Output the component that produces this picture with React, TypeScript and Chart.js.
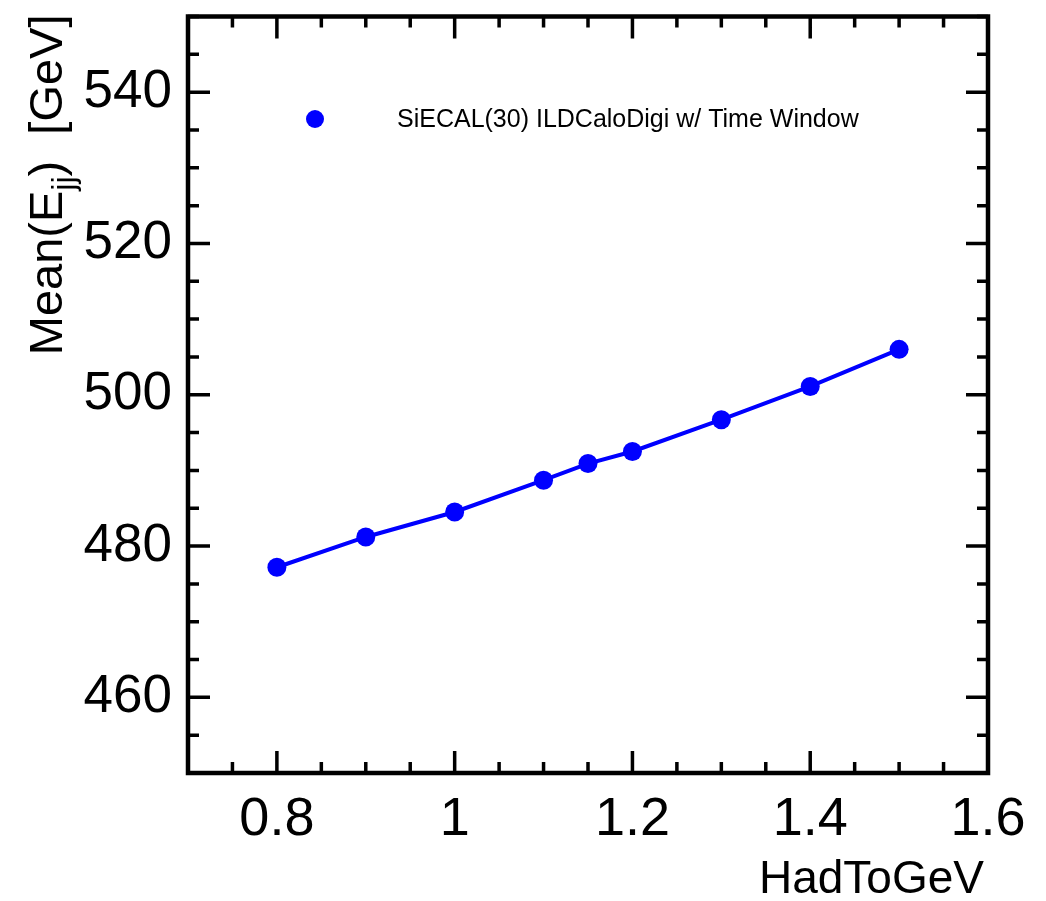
import React, { useEffect, useRef } from "react";
import { Chart, registerables } from "chart.js";

Chart.register(...registerables);

// HadToGeV scan: mean di-jet energy
const hadToGeV = [0.8, 0.9, 1.0, 1.1, 1.15, 1.2, 1.3, 1.4, 1.5];
const meanEjj = [477.2, 481.2, 484.5, 488.7, 490.9, 492.5, 496.7, 501.1, 506.0];

const xTickValues = [0.8, 1.0, 1.2, 1.4, 1.6];
const yTickValues = [460, 480, 500, 520, 540];

const seriesLabel = "SiECAL(30) ILDCaloDigi w/ Time Window";
const xTitle = "HadToGeV";

const FONT = "'Liberation Sans', Arial, Helvetica, sans-serif";
const BLUE = "#0000ff";

const X_MIN = 0.7, X_MAX = 1.6, X_MINOR = 0.05, X_MAJOR = 0.2;
const Y_MIN = 450, Y_MAX = 550, Y_MINOR = 5, Y_MAJOR = 20;

// Frame with inward ticks on all four sides, axis titles and the legend
const framePlugin = {
  id: "rootFrame",
  afterDraw(chart: any) {
    const { ctx, chartArea: a, scales } = chart;
    const xs = scales.x, ys = scales.y;
    ctx.save();
    ctx.strokeStyle = "#000";
    ctx.lineWidth = 4.5;
    ctx.strokeRect(a.left, a.top, a.right - a.left, a.bottom - a.top);

    ctx.lineWidth = 3.5;
    ctx.beginPath();
    const nx = Math.round((X_MAX - X_MIN) / X_MINOR);
    for (let i = 0; i <= nx; i++) {
      const v = X_MIN + i * X_MINOR;
      const major = Math.abs(v / X_MAJOR - Math.round(v / X_MAJOR)) < 1e-6;
      const len = major ? 22 : 11;
      const px = xs.getPixelForValue(v);
      ctx.moveTo(px, a.bottom);
      ctx.lineTo(px, a.bottom - len);
      ctx.moveTo(px, a.top);
      ctx.lineTo(px, a.top + len);
    }
    const ny = Math.round((Y_MAX - Y_MIN) / Y_MINOR);
    for (let i = 0; i <= ny; i++) {
      const v = Y_MIN + i * Y_MINOR;
      const major = v % Y_MAJOR === 0;
      const len = major ? 22 : 11;
      const py = ys.getPixelForValue(v);
      ctx.moveTo(a.left, py);
      ctx.lineTo(a.left + len, py);
      ctx.moveTo(a.right, py);
      ctx.lineTo(a.right - len, py);
    }
    ctx.stroke();

    // x-axis title, right aligned
    ctx.fillStyle = "#000";
    ctx.font = `46px ${FONT}`;
    ctx.textAlign = "right";
    ctx.textBaseline = "alphabetic";
    ctx.fillText(xTitle, a.right - 4, 893);

    // y-axis title with subscript, rotated, ending at the top of the frame
    ctx.save();
    ctx.translate(62, a.top - 2);
    ctx.rotate(-Math.PI / 2);
    const big = `47px ${FONT}`;
    const small = `32px ${FONT}`;
    const parts: [string, string, number][] = [
      ["Mean(E", big, 0],
      ["jj", small, 12],
      [")  [GeV]", big, 0],
    ];
    let total = 0;
    for (const [t, f] of parts) { ctx.font = f; total += ctx.measureText(t).width; }
    let cx = -total;
    ctx.textAlign = "left";
    for (const [t, f, dy] of parts) {
      ctx.font = f;
      ctx.fillText(t, cx, dy);
      cx += ctx.measureText(t).width;
    }
    ctx.restore();

    // legend
    ctx.fillStyle = BLUE;
    ctx.beginPath();
    ctx.arc(315, 119, 9, 0, Math.PI * 2);
    ctx.fill();
    ctx.fillStyle = "#000";
    ctx.font = `25px ${FONT}`;
    ctx.textAlign = "left";
    ctx.textBaseline = "middle";
    ctx.fillText(seriesLabel, 397, 120);
    ctx.restore();
  },
};

export default function App() {
  const ref = useRef<HTMLCanvasElement | null>(null);

  useEffect(() => {
    if (!ref.current) return;
    const chart = new Chart(ref.current, {
      type: "line",
      data: {
        datasets: [
          {
            label: seriesLabel,
            data: hadToGeV.map((x, i) => ({ x, y: meanEjj[i] })),
            borderColor: BLUE,
            backgroundColor: BLUE,
            borderWidth: 4,
            pointRadius: 9.5,
            pointHoverRadius: 9.5,
            pointBorderWidth: 0,
            pointBackgroundColor: BLUE,
            tension: 0,
          },
        ],
      },
      options: {
        animation: false,
        responsive: false,
        maintainAspectRatio: false,
        events: [],
        layout: { padding: { left: 0, top: 16.5, right: 58, bottom: 0 } },
        plugins: {
          legend: { display: false },
          tooltip: { enabled: false },
          title: { display: false },
        },
        scales: {
          x: {
            type: "linear",
            min: X_MIN,
            max: X_MAX,
            grid: { display: false, drawTicks: false },
            border: { display: false },
            afterBuildTicks: (s: any) => {
              s.ticks = xTickValues.map((v) => ({ value: v }));
            },
            afterFit: (s: any) => {
              s.height = 128;
              s.paddingLeft = 0;
              s.paddingRight = 0;
            },
            ticks: {
              color: "#000",
              font: { family: FONT, size: 54 },
              padding: 15,
              maxRotation: 0,
              autoSkip: false,
              callback: (v: any) => String(Math.round(Number(v) * 10) / 10),
            },
          },
          y: {
            type: "linear",
            min: Y_MIN,
            max: Y_MAX,
            grid: { display: false, drawTicks: false },
            border: { display: false },
            afterBuildTicks: (s: any) => {
              s.ticks = yTickValues.map((v) => ({ value: v }));
            },
            afterFit: (s: any) => {
              s.width = 188;
              s.paddingTop = 0;
              s.paddingBottom = 0;
            },
            ticks: {
              color: "#000",
              font: { family: FONT, size: 53 },
              padding: 16,
              autoSkip: false,
              callback: (v: any) => String(v),
            },
          },
        },
      },
      plugins: [framePlugin],
    });
    return () => chart.destroy();
  }, []);

  return (
    <div style={{ position: "fixed", left: 0, top: 0, width: 1046, height: 901, background: "#fff" }}>
      <canvas ref={ref} width={1046} height={901} style={{ display: "block" }} />
    </div>
  );
}
